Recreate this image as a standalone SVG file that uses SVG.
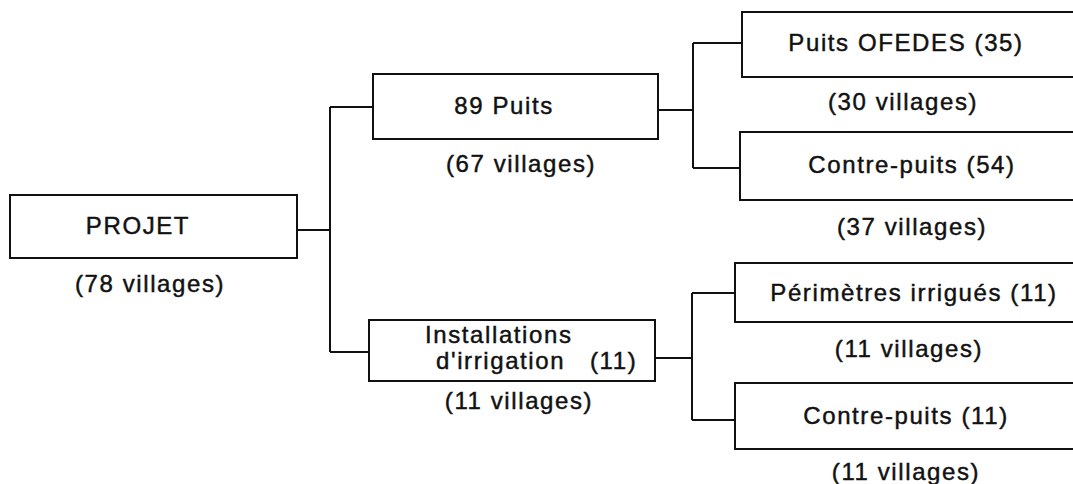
<svg xmlns="http://www.w3.org/2000/svg" width="1073" height="484" viewBox="0 0 1073 484">
<style>
.box{fill:#fff;stroke:#111;stroke-width:2}
.con{fill:none;stroke:#111;stroke-width:2}
text{font-family:"Liberation Sans",Arial,sans-serif;font-size:24px;letter-spacing:1.6px;fill:#111;stroke:#111;stroke-width:0.45;text-anchor:middle}
.st{text-anchor:start;white-space:pre}
</style>
<rect width="1073" height="484" fill="#fff"/>
<g id="connectors">
<path class="con" d="M297 230H330M330 107V352M330 107H373M330 352H369"/>
<path class="con" d="M658 110H693M693 43V168M693 43H742M693 168H740"/>
<path class="con" d="M655 358H692M692 293V420M692 293H735M692 420H735"/>
</g>
<g id="projet">
<rect class="box" x="10" y="195" width="287" height="63"/>
<text x="138" y="234">PROJET</text>
<text x="150" y="292">(78 villages)</text>
</g>
<g id="puits89">
<rect class="box" x="373" y="74" width="285" height="65"/>
<text x="504" y="114">89 Puits</text>
<text x="521" y="172">(67 villages)</text>
</g>
<g id="installations">
<rect class="box" x="369" y="320" width="286" height="61"/>
<text class="st" x="425" y="343">Installations</text>
<text class="st" x="436" y="369" xml:space="preserve">d'irrigation   (11)</text>
<text x="519" y="409">(11 villages)</text>
</g>
<g id="ofedes">
<rect class="box" x="742" y="12" width="340" height="65"/>
<text x="906" y="51">Puits OFEDES (35)</text>
<text x="903" y="110">(30 villages)</text>
</g>
<g id="contrepuits54">
<rect class="box" x="740" y="132" width="342" height="68"/>
<text x="912" y="173">Contre-puits (54)</text>
<text x="912" y="235">(37 villages)</text>
</g>
<g id="perimetres">
<rect class="box" x="735" y="263" width="347" height="59"/>
<text x="914" y="301">Périmètres irrigués (11)</text>
<text x="909" y="357">(11 villages)</text>
</g>
<g id="contrepuits11">
<rect class="box" x="735" y="383" width="347" height="66"/>
<text x="906" y="424">Contre-puits (11)</text>
<text x="906" y="480">(11 villages)</text>
</g>
</svg>
